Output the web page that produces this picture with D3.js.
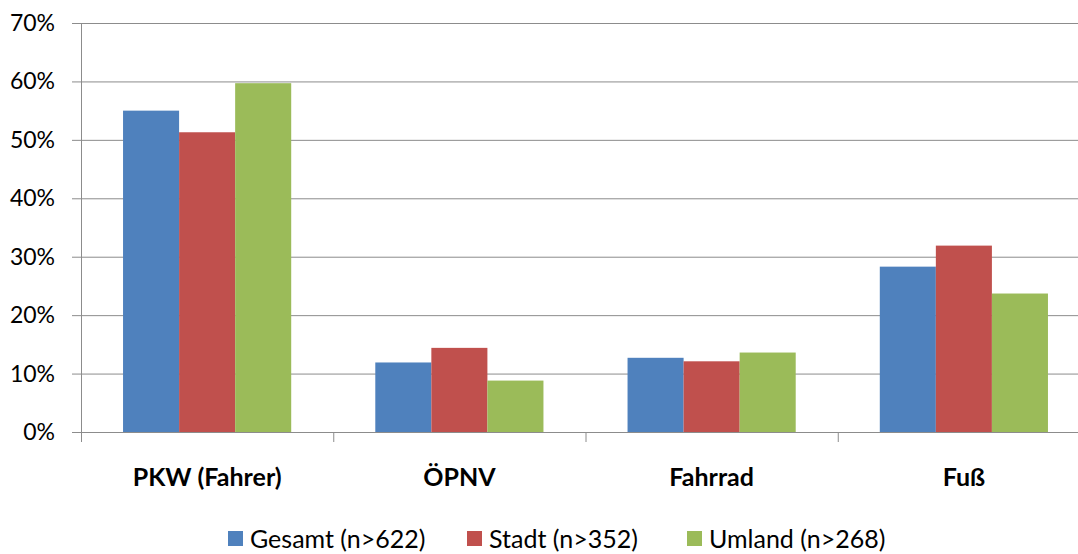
<!DOCTYPE html>
<html>
<head>
<meta charset="utf-8">
<script src="https://cdn.jsdelivr.net/npm/d3@7"></script>
<style>
  body { margin: 0; background: #fff; }
  text { font-family: Lato, "Open Sans", sans-serif; fill: #000; }
</style>
</head>
<body>
<script>
// data
let categories = ['PKW (Fahrer)', 'ÖPNV', 'Fahrrad', 'Fuß']
let seriesNames = ['Gesamt (n>622)', 'Stadt (n>352)', 'Umland (n>268)']
let gesamt = [55.0, 11.9, 12.7, 28.3]
let stadt = [51.3, 14.4, 12.1, 31.9]
let umland = [59.7, 8.8, 13.6, 23.7]
let yTicks = [0, 10, 20, 30, 40, 50, 60, 70]
let colors = ['#4F81BD', '#C0504D', '#9BBB59']

let width = 1078
let height = 554
let plotLeft = 81
let plotRight = 1090
let plotTop = 23
let plotBottom = 432

let svg = d3.select('body').append('svg')
  .attr('width', width)
  .attr('height', height)

let x0 = d3.scaleBand().domain(categories).range([plotLeft, plotRight]).padding(0)
let x1 = d3.scaleBand().domain(seriesNames).range([0, x0.bandwidth()])
  .paddingInner(0).paddingOuter(0.75)
let y = d3.scaleLinear().domain([0, 70]).range([plotBottom, plotTop])

// gridlines + y ticks
svg.append('g').selectAll('line')
  .data(yTicks.filter(d => d > 0))
  .join('line')
  .attr('x1', plotLeft - 9)
  .attr('x2', width)
  .attr('y1', d => y(d) + 0.5)
  .attr('y2', d => y(d) + 0.5)
  .attr('stroke', '#8c8c8c')
  .attr('stroke-width', 1)

svg.append('g').selectAll('text')
  .data(yTicks)
  .join('text')
  .attr('x', 55)
  .attr('y', d => y(d))
  .attr('dy', '0.35em')
  .attr('text-anchor', 'end')
  .attr('font-size', 23)
  .text(d => d + '%')

// bars
let series = [gesamt, stadt, umland]
let groups = svg.append('g').selectAll('g')
  .data(categories)
  .join('g')
  .attr('transform', d => `translate(${x0(d)},0)`)

groups.selectAll('rect')
  .data((c, i) => seriesNames.map((s, j) => ({ s: s, v: series[j][i], j: j })))
  .join('rect')
  .attr('x', d => x1(d.s))
  .attr('width', x1.bandwidth())
  .attr('y', d => y(d.v))
  .attr('height', d => y(0) - y(d.v))
  .attr('fill', d => colors[d.j])

// axes lines
svg.append('line')
  .attr('x1', plotLeft - 9).attr('x2', width)
  .attr('y1', plotBottom + 0.5).attr('y2', plotBottom + 0.5)
  .attr('stroke', '#8c8c8c')
svg.append('line')
  .attr('x1', plotLeft + 0.5).attr('x2', plotLeft + 0.5)
  .attr('y1', plotTop).attr('y2', plotBottom + 10)
  .attr('stroke', '#8c8c8c')

// category ticks
svg.append('g').selectAll('line')
  .data(categories.slice(1))
  .join('line')
  .attr('x1', d => x0(d) + 0.5)
  .attr('x2', d => x0(d) + 0.5)
  .attr('y1', plotBottom)
  .attr('y2', plotBottom + 10)
  .attr('stroke', '#8c8c8c')

// category labels
svg.append('g').selectAll('text')
  .data(categories)
  .join('text')
  .attr('x', d => x0(d) + x0.bandwidth() / 2)
  .attr('y', 486)
  .attr('text-anchor', 'middle')
  .attr('font-size', 25)
  .attr('font-weight', 'bold')
  .text(d => d)

// legend
let legendX = [228, 467, 687]
let legend = svg.append('g').selectAll('g')
  .data(seriesNames)
  .join('g')
  .attr('transform', (d, i) => `translate(${legendX[i]},531)`)
legend.append('rect')
  .attr('width', 15)
  .attr('height', 15)
  .attr('fill', (d, i) => colors[i])
legend.append('text')
  .attr('x', 22)
  .attr('y', 8)
  .attr('dy', '0.35em')
  .attr('font-size', 25)
  .text(d => d)
</script>
</body>
</html>
